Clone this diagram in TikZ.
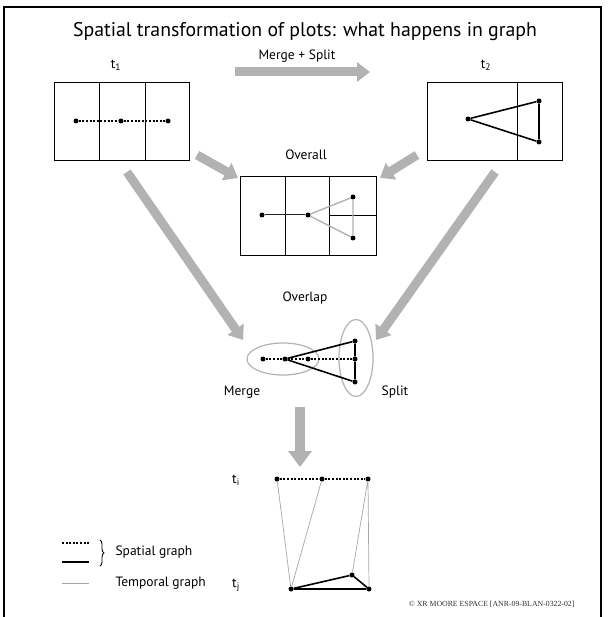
\documentclass[tikz,border=0pt]{standalone}
\usepackage{fontspec}
\setmainfont{PT Sans}
\newfontfamily\copyfont{Liberation Serif}
\usetikzlibrary{arrows.meta,shapes.geometric,decorations.pathreplacing}

\tikzset{
  cell/.style={draw, line width=0.8pt},
  pt/.style={circle, fill, inner sep=0pt, minimum size=5pt},
  spatial/.style={line width=1.6pt},
  dots/.style={line width=1.4pt, dash pattern=on 2pt off 1.6pt},
  temporal/.style={gray!70, line width=0.7pt},
  fat/.style={gray!60, line width=9pt, -{Triangle[width=19pt,length=13pt]}},
  ring/.style={ellipse, draw=gray!60, line width=1.2pt, inner sep=0pt},
  lab/.style={font=\fontsize{13.5}{15}\selectfont}
}

\begin{document}
\begin{tikzpicture}[x=1pt, y=-1pt]
    \useasboundingbox (0,0) rectangle (609,617);

    % frame and title
    \draw[line width=1.2pt] (4,617) -- (4,7) -- (601,7) -- (601,617);
    \node[font=\fontsize{19.8}{23}\selectfont] (title) at (305,32) {Spatial transformation of plots: what happens in graph};

    % Merge + Split arrow between the two dates
    \node[lab] (mergesplit) at (297,56) {Merge + Split};
    \coordinate (msfrom) at (235,72);
    \coordinate (msto) at (370,72);
    \draw[fat] (msfrom) -- (msto);

    % plots at t1
    \node[lab] (tone) at (116,65) {t\textsubscript{1}};
    \draw[cell] (54,82) rectangle (189,160);
    \draw[cell] (99,82) -- (99,160) (145,82) -- (145,160);
    \node[pt] (a1) at (76,121) {};
    \node[pt] (a2) at (121,121) {};
    \node[pt] (a3) at (168,121) {};
    \draw[dots] (a1) -- (a2) -- (a3);

    % plots at t2
    \node[lab] (ttwo) at (486,65) {t\textsubscript{2}};
    \draw[cell] (427,82) rectangle (562,160);
    \draw[cell] (517,82) -- (517,160);
    \node[pt] (b1) at (468,119) {};
    \node[pt] (b2) at (539,101) {};
    \node[pt] (b3) at (539,142) {};
    \draw[spatial] (b1) -- (b2) -- (b3) -- (b1);

    % overall
    \node[lab] (overall) at (306,155) {Overall};
    \draw[cell] (240,176) rectangle (376,255);
    \draw[cell] (285,176) -- (285,255) (329,176) -- (329,255) (329,215) -- (376,215);
    \node[pt] (c1) at (262,215) {};
    \node[pt] (c2) at (308,215) {};
    \node[pt] (c3) at (353,197) {};
    \node[pt] (c4) at (353,238) {};
    \draw[gray!30!black, line width=1pt] (c1) -- (c2);
    \draw[gray!60, line width=1.4pt] (c2) -- (c3) -- (c4) -- (c2);

    \coordinate (ovl1) at (197,155);
    \coordinate (ovl2) at (238,178);
    \coordinate (ovr1) at (417,155);
    \coordinate (ovr2) at (380,178);
    \draw[fat] (ovl1) -- (ovl2);
    \draw[fat] (ovr1) -- (ovr2);

    % long arrows to the overlap
    \coordinate (lgl1) at (127,172);
    \coordinate (lgl2) at (243,340);
    \coordinate (lgr1) at (495,172);
    \coordinate (lgr2) at (376,340);
    \draw[fat] (lgl1) -- (lgl2);
    \draw[fat] (lgr1) -- (lgr2);

    % overlap
    \node[lab] (overlap) at (305,298) {Overlap};
    \node[ring, minimum width=72pt, minimum height=32pt] (mergering) at (283,359) {};
    \node[ring, minimum width=34pt, minimum height=77pt] (splitring) at (356,358) {};
    \node[pt] (d1) at (263,359) {};
    \node[pt] (d2) at (285,359) {};
    \node[pt] (d3) at (308,359) {};
    \node[pt] (d4) at (355,341) {};
    \node[pt] (d5) at (355,359) {};
    \node[pt] (d6) at (355,382) {};
    \draw[dots] (d1) -- (d2) -- (d3) -- (d5);
    \draw[spatial] (d2) -- (d4) -- (d5) -- (d6) -- (d2);
    \node[lab] (merge) at (242,392) {Merge};
    \node[lab] (split) at (395,392) {Split};

    % down to the graph
    \coordinate (dn1) at (300,407);
    \coordinate (dn2) at (300,467);
    \draw[fat, line width=10pt, -{Triangle[width=23pt,length=16pt]}] (dn1) -- (dn2);

    % graph between ti and tj
    \node[lab] (ti) at (236,480) {t\textsubscript{i}};
    \node[lab] (tj) at (236,585) {t\textsubscript{j}};
    \node[pt] (e1) at (277,479) {};
    \node[pt] (e2) at (322,479) {};
    \node[pt] (e3) at (368,479) {};
    \node[pt] (f1) at (291,589) {};
    \node[pt] (f2) at (352,575) {};
    \node[pt] (f3) at (369,589) {};
    \draw[dots] (e1) -- (e2) -- (e3);
    \draw[temporal] (e1) -- (f1) (e2) -- (f1) (e3) -- (f2) (e3) -- (f3);
    \draw[spatial] (f1) -- (f2) -- (f3) -- (f1);

    % legend
    \draw[dots] (62,543) -- (89,543);
    \draw[spatial] (62,562) -- (89,562);
    \draw[decorate, decoration={brace, amplitude=4pt}, line width=0.9pt] (100,540) -- (100,566);
    \node[lab, anchor=west] (spatlab) at (112,552) {Spatial graph};
    \draw[temporal] (62,583) -- (89,583);
    \node[lab, anchor=west] (templab) at (112,583) {Temporal graph};

    \node[font=\fontsize{7.8}{9}\selectfont\copyfont, text=gray!40!black, anchor=east] (copy) at (578,604) {\copyright{} XR MOORE ESPACE [ANR-09-BLAN-0322-02]};
\end{tikzpicture}
\end{document}
